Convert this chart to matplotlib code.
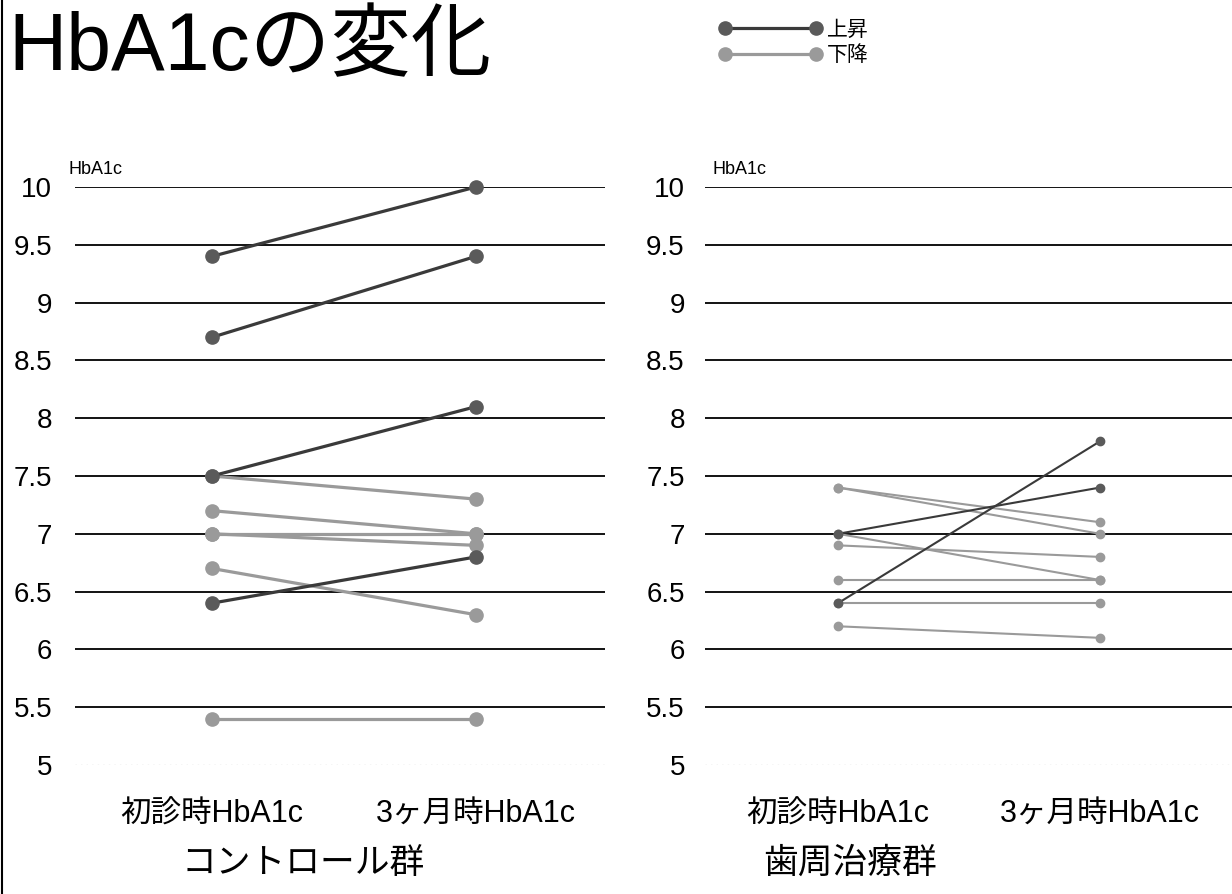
import matplotlib
matplotlib.use('Agg')
import matplotlib.pyplot as plt
from matplotlib.lines import Line2D

plt.rcParams['font.family'] = ['Liberation Sans', 'Noto Sans CJK JP']

title = 'HbA1cの変化'
unit_label = 'HbA1c'
time_labels = ['初診時HbA1c', '3ヶ月時HbA1c']
group_names = ['コントロール群', '歯周治療群']
legend_labels = ['上昇', '下降']
y_ticks = [5, 5.5, 6, 6.5, 7, 7.5, 8, 8.5, 9, 9.5, 10]
y_ticklabels = ['5', '5.5', '6', '6.5', '7', '7.5', '8', '8.5', '9', '9.5', '10']

# control group: before / after 3 months
ctrl_before = [9.4, 8.7, 7.5, 6.4, 7.5, 7.2, 7.0, 7.0, 6.7, 5.4]
ctrl_after  = [10.0, 9.4, 8.1, 6.8, 7.3, 7.0, 7.0, 6.9, 6.3, 5.4]

# periodontal treatment group
perio_before = [6.4, 7.0, 7.4, 7.4, 7.0, 6.9, 6.6, 6.4, 6.2]
perio_after  = [7.8, 7.4, 7.1, 7.0, 6.6, 6.8, 6.6, 6.4, 6.1]

up_line = '#3a3a3a'
up_mark = '#5a5a5a'
down_col = '#9a9a9a'

W, H = 1232, 894
fig = plt.figure(figsize=(W / 100, H / 100), dpi=100)

panels = [
    (ctrl_before, ctrl_after, [75, 605], (-0.519, 1.489), 2.3, 9.5, 16.5),
    (perio_before, perio_after, [705, 1232], (-0.508, 1.504), 1.5, 6.0, 14.5),
]

handles = {}
for i, (before, after, xr, xl, lw, ms, pad) in enumerate(panels):
    ax = fig.add_axes([xr[0] / W, 1 - 765 / H, (xr[1] - xr[0]) / W, (765 - 187) / H])
    for yv in y_ticks[1:]:
        ax.axhline(yv, color='black', lw=1.3, zorder=1)
    ax.axhline(5, color='#cccccc', lw=1.0, ls=(0, (1, 3)), zorder=1)
    # falling first, rising on top
    order = sorted(range(len(before)), key=lambda k: after[k] > before[k])
    for k in order:
        rising = after[k] > before[k]
        line, = ax.plot([0, 1], [before[k], after[k]],
                        color=up_line if rising else down_col, lw=lw,
                        marker='o', ms=ms,
                        mfc=up_mark if rising else down_col,
                        mec=up_mark if rising else down_col,
                        clip_on=False, zorder=3 if rising else 2)
        if i == 0:
            handles.setdefault(rising, line)
    ax.set_xlim(*xl)
    ax.set_ylim(5, 10)
    ax.set_yticks(y_ticks)
    ax.set_yticklabels(y_ticklabels, fontsize=20)
    ax.set_xticks([0, 1])
    ax.set_xticklabels(time_labels, fontsize=22)
    ax.tick_params(axis='y', length=0, pad=pad)
    ax.tick_params(axis='x', length=0, pad=25)
    for s in ax.spines.values():
        s.set_visible(False)
    ax.patch.set_alpha(0)

fig.text(68 / W, 1 - 170 / H, unit_label, fontsize=13, va='center', ha='left')
fig.text(713 / W, 1 - 170 / H, unit_label, fontsize=13, va='center', ha='left')
fig.text(303 / W, 1 - 863 / H, group_names[0], fontsize=25,
         va='center', ha='center')
fig.text(850 / W, 1 - 863 / H, group_names[1], fontsize=25,
         va='center', ha='center')
fig.text(8 / W, 1 - 49 / H, title, fontsize=58, va='center', ha='left')

fig.legend([handles[True], handles[False]], legend_labels,
           loc='upper left', bbox_to_anchor=(708 / W, 1 - 10 / H),
           frameon=False, numpoints=2, handlelength=5.0, handletextpad=0.2,
           labelspacing=0.25, fontsize=15, borderpad=0)

fig.add_artist(Line2D([2.5 / W, 2.5 / W], [0, 1], color='black', lw=1.5,
                      transform=fig.transFigure))

fig.savefig('out.png', dpi=100)
